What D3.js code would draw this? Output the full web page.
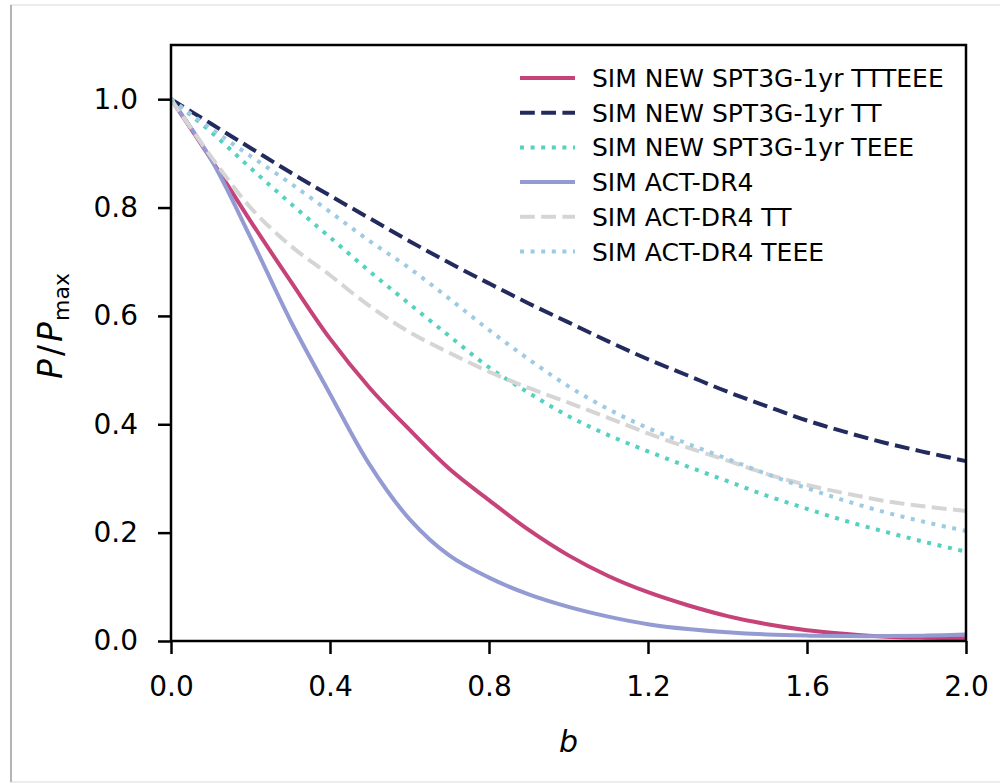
<!DOCTYPE html>
<html>
<head>
<meta charset="utf-8">
<script src="https://cdn.jsdelivr.net/npm/d3@7"></script>
<style>
  body { margin: 0; background: #fff; }
  svg { display: block; font-family: "DejaVu Sans", sans-serif; }
</style>
</head>
<body>
<svg id="chart" width="1000" height="784"></svg>
<script>
// b values (x axis)
const bValues = [0.0, 0.1, 0.2, 0.3, 0.4, 0.5, 0.6, 0.7, 0.8, 0.9, 1.0,
                 1.1, 1.2, 1.3, 1.4, 1.5, 1.6, 1.7, 1.8, 1.9, 2.0];

// P/Pmax for each run
const newTTTEEE = [1.0, 0.89, 0.775, 0.665, 0.558, 0.467, 0.39, 0.318, 0.26, 0.205, 0.158,
                   0.12, 0.09, 0.066, 0.046, 0.031, 0.02, 0.013, 0.008, 0.006, 0.005];
const newTT     = [1.0, 0.955, 0.91, 0.865, 0.822, 0.78, 0.738, 0.698, 0.66, 0.623, 0.588,
                   0.553, 0.52, 0.49, 0.46, 0.433, 0.407, 0.385, 0.365, 0.348, 0.332];
const newTEEE   = [1.0, 0.94, 0.873, 0.808, 0.745, 0.682, 0.622, 0.563, 0.505, 0.458, 0.415,
                   0.38, 0.35, 0.322, 0.295, 0.268, 0.244, 0.221, 0.201, 0.182, 0.165];
const actAll    = [1.0, 0.89, 0.745, 0.592, 0.456, 0.325, 0.225, 0.158, 0.117, 0.086, 0.063,
                   0.045, 0.031, 0.022, 0.016, 0.012, 0.01, 0.009, 0.009, 0.01, 0.012];
const actTT     = [1.0, 0.895, 0.8, 0.73, 0.675, 0.618, 0.57, 0.532, 0.497, 0.467, 0.44,
                   0.412, 0.383, 0.357, 0.333, 0.308, 0.288, 0.272, 0.258, 0.248, 0.24];
const actTEEE   = [1.0, 0.946, 0.895, 0.845, 0.792, 0.738, 0.688, 0.632, 0.574, 0.52, 0.47,
                   0.428, 0.393, 0.364, 0.336, 0.308, 0.282, 0.258, 0.237, 0.219, 0.203];

const seriesNames = ["SIM NEW SPT3G-1yr TTTEEE", "SIM NEW SPT3G-1yr TT", "SIM NEW SPT3G-1yr TEEE",
                     "SIM ACT-DR4", "SIM ACT-DR4 TT", "SIM ACT-DR4 TEEE"];
const seriesValues = [newTTTEEE, newTT, newTEEE, actAll, actTT, actTEEE];
const seriesColors = ["#c6437a", "#232a5e", "#55d1bf", "#949ad2", "#d5d5d5", "#9ecbe4"];
const seriesDash = ["none", "14.8,6.4", "4,6.6", "none", "14.8,6.4", "4,6.6"];

const xTicks = [0.0, 0.4, 0.8, 1.2, 1.6, 2.0];
const yTicks = [0.0, 0.2, 0.4, 0.6, 0.8, 1.0];

const svg = d3.select('#chart');

// screenshot frame round the figure
svg.append('rect')
    .attr('x', 11).attr('y', 5)
    .attr('width', 1000).attr('height', 777)
    .attr('fill', 'none')
    .attr('stroke', '#ececec')
    .attr('stroke-width', 2);
svg.append('line')
    .attr('x1', 11).attr('x2', 11)
    .attr('y1', 5).attr('y2', 782)
    .attr('stroke', '#b4b4b4')
    .attr('stroke-width', 2);

// plot area
const plot = { left: 171, right: 966, top: 45, bottom: 641 };

const x = d3.scaleLinear().domain([0, 2]).range([plot.left, plot.right]);
const y = d3.scaleLinear().domain([0, 1.1]).range([plot.bottom, plot.top]);

// lines
const line = d3.line()
    .x((d, i) => x(bValues[i]))
    .y(d => y(d))
    .curve(d3.curveCatmullRom.alpha(0.5));

seriesValues.forEach((vals, i) => {
    svg.append('path')
        .datum(vals)
        .attr('d', line)
        .attr('fill', 'none')
        .attr('stroke', seriesColors[i])
        .attr('stroke-width', 4)
        .attr('stroke-dasharray', seriesDash[i]);
});

// axes
const xAxis = svg.append('g')
    .attr('transform', `translate(0,${plot.bottom})`)
    .call(d3.axisBottom(x).tickValues(xTicks).tickFormat(d3.format('.1f')).tickSize(13).tickPadding(22));
const yAxis = svg.append('g')
    .attr('transform', `translate(${plot.left},0)`)
    .call(d3.axisLeft(y).tickValues(yTicks).tickFormat(d3.format('.1f')).tickSize(13).tickPadding(20));

[xAxis, yAxis].forEach(g => {
    g.select('.domain').remove();
    g.selectAll('.tick line').attr('stroke', '#000').attr('stroke-width', 2.5);
    g.selectAll('.tick text')
        .attr('fill', '#000')
        .style('font-family', '"DejaVu Sans", sans-serif')
        .style('font-size', '28px');
});

// frame
svg.append('rect')
    .attr('x', plot.left).attr('y', plot.top)
    .attr('width', plot.right - plot.left).attr('height', plot.bottom - plot.top)
    .attr('fill', 'none')
    .attr('stroke', '#000')
    .attr('stroke-width', 2.5);

// axis labels
svg.append('text')
    .attr('x', (plot.left + plot.right) / 2)
    .attr('y', 752)
    .attr('text-anchor', 'middle')
    .style('font-size', '30px')
    .style('font-style', 'italic')
    .text('b');

const yLabel = svg.append('text')
    .attr('transform', `translate(62,326) rotate(-90)`)
    .attr('text-anchor', 'middle')
    .style('font-size', '33px');
yLabel.append('tspan').style('font-style', 'italic').text('P');
yLabel.append('tspan').attr('dx', 3).text('/');
yLabel.append('tspan').attr('dx', 3).style('font-style', 'italic').text('P');
yLabel.append('tspan').attr('dy', 7).attr('dx', 1).style('font-size', '22px').text('max');

// legend (no frame)
const legend = svg.append('g');
seriesNames.forEach((name, i) => {
    const ly = 78 + i * 34.7;
    legend.append('line')
        .attr('x1', 520).attr('x2', 575)
        .attr('y1', ly).attr('y2', ly)
        .attr('stroke', seriesColors[i])
        .attr('stroke-width', 4)
        .attr('stroke-dasharray', seriesDash[i]);
    legend.append('text')
        .attr('x', 592)
        .attr('y', ly + 9)
        .style('font-size', '25px')
        .text(name);
});
</script>
</body>
</html>
